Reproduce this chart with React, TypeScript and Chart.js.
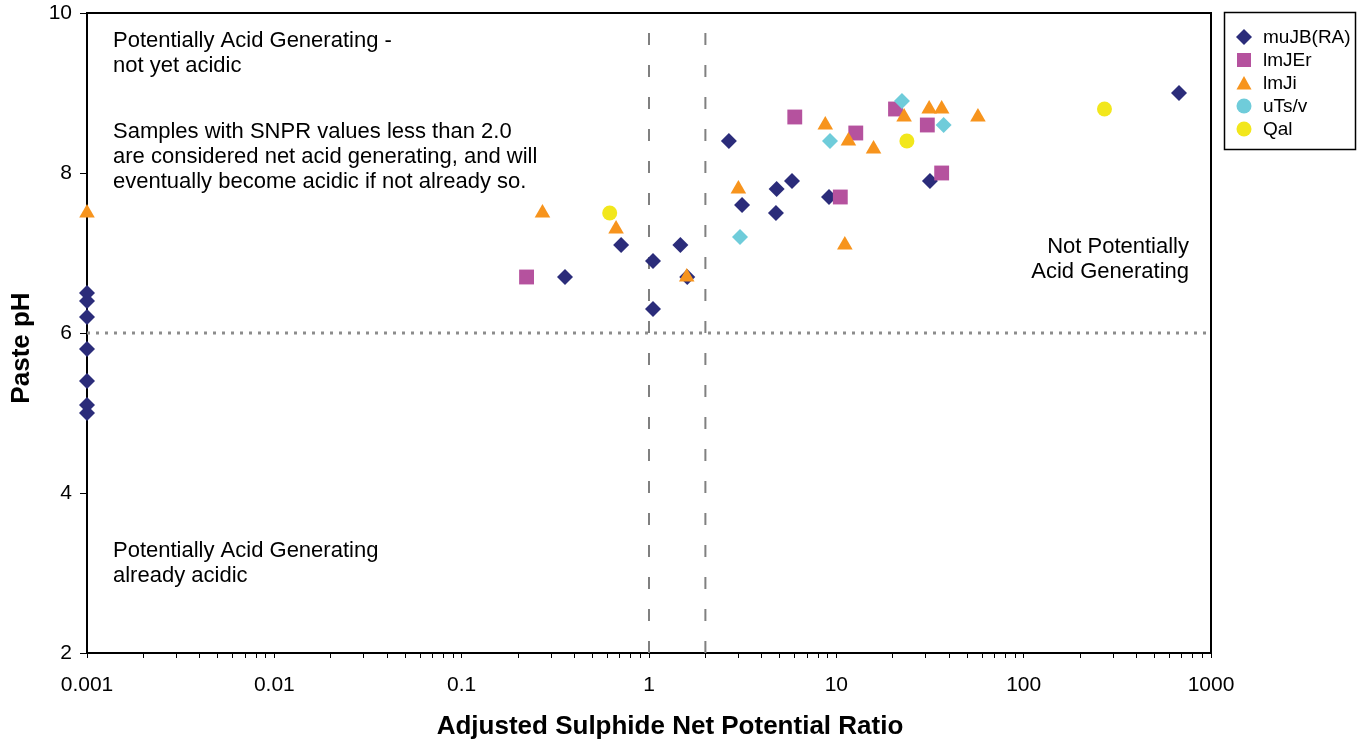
import React, { useEffect, useRef } from "react";
import { Chart, registerables } from "chart.js";

Chart.register(...registerables);

// ---- data ----
const seriesNames = ["muJB(RA)", "lmJEr", "lmJi", "uTs/v", "Qal"];

const muJB_x = [0.001, 0.001, 0.001, 0.001, 0.001, 0.001, 0.001, 0.356, 0.71, 1.05, 1.05, 1.47, 1.6, 2.67, 3.14, 4.76, 4.8, 5.8, 9.14, 31.6, 675];
const muJB_y = [6.5, 6.4, 6.2, 5.8, 5.4, 5.1, 5.0, 6.7, 7.1, 6.9, 6.3, 7.1, 6.7, 8.4, 7.6, 7.5, 7.8, 7.9, 7.7, 7.9, 9.0];

const lmJEr_x = [0.222, 6.0, 12.7, 20.7, 30.6, 36.5, 10.5];
const lmJEr_y = [6.7, 8.7, 8.5, 8.8, 8.6, 8.0, 7.7];

const lmJi_x = [0.001, 0.27, 0.667, 1.59, 3.0, 8.73, 11.6, 15.8, 11.1, 23, 31.3, 36.5, 57];
const lmJi_y = [7.5, 7.5, 7.3, 6.7, 7.8, 8.6, 8.4, 8.3, 7.1, 8.7, 8.8, 8.8, 8.7];

const uTs_x = [3.06, 9.25, 22.4, 37.4];
const uTs_y = [7.2, 8.4, 8.9, 8.6];

const Qal_x = [0.617, 23.8, 270];
const Qal_y = [7.5, 8.4, 8.8];

const xDecadeTicks = [0.001, 0.01, 0.1, 1, 10, 100, 1000];
const yTicks = [2, 4, 6, 8, 10];
const snprLines = [1, 2];
const phLine = 6;

const xTitle = "Adjusted Sulphide Net Potential Ratio";
const yTitle = "Paste pH";

const colors = ["#2B2C7A", "#B5529E", "#F7941D", "#6FCCDA", "#F2E71C"];
const pointStyles = ["rectRot", "rect", "triangle", "rectRot", "circle"];
const legendStyles = ["rectRot", "rect", "triangle", "circle", "circle"];
const radii = [8, 10.5, 9, 8, 7.5];

const FONT = "'Liberation Sans', Arial, Helvetica, sans-serif";

const zip = (xs: number[], ys: number[]) => xs.map((x, i) => ({ x, y: ys[i] }));

function drawMarker(ctx: CanvasRenderingContext2D, style: string, x: number, y: number, color: string) {
  ctx.fillStyle = color;
  ctx.beginPath();
  if (style === "rectRot") {
    const r = 8;
    ctx.moveTo(x, y - r);
    ctx.lineTo(x + r, y);
    ctx.lineTo(x, y + r);
    ctx.lineTo(x - r, y);
    ctx.closePath();
  } else if (style === "rect") {
    const h = 7;
    ctx.rect(x - h, y - h, 2 * h, 2 * h);
  } else if (style === "triangle") {
    const w = 7.5;
    ctx.moveTo(x, y - 7);
    ctx.lineTo(x + w, y + 6.5);
    ctx.lineTo(x - w, y + 6.5);
    ctx.closePath();
  } else {
    ctx.arc(x, y, 7.5, 0, Math.PI * 2);
  }
  ctx.fill();
}

const decorPlugin = {
  id: "decor",
  beforeDatasetsDraw(chart: any) {
    const { ctx, chartArea } = chart;
    ctx.save();
    ctx.strokeStyle = "#000";
    ctx.lineWidth = 2;
    ctx.beginPath();
    ctx.moveTo(chartArea.left, chartArea.top);
    ctx.lineTo(chartArea.right, chartArea.top);
    ctx.lineTo(chartArea.right, chartArea.bottom);
    ctx.stroke();

    // annotations
    ctx.fillStyle = "#000";
    ctx.font = `22px ${FONT}`;
    ctx.textBaseline = "alphabetic";
    ctx.textAlign = "left";
    const lx = chartArea.left + 26;
    ctx.fillText("Potentially Acid Generating -", lx, 47);
    ctx.fillText("not yet acidic", lx, 72);
    ctx.fillText("Samples with SNPR values less than 2.0", lx, 138);
    ctx.fillText("are considered net acid generating, and will", lx, 163);
    ctx.fillText("eventually become acidic if not already so.", lx, 188);
    ctx.fillText("Potentially Acid Generating", lx, 557);
    ctx.fillText("already acidic", lx, 582);
    ctx.textAlign = "right";
    ctx.fillText("Not Potentially", chartArea.right - 22, 253);
    ctx.fillText("Acid Generating", chartArea.right - 22, 278);
    ctx.restore();
  },
  afterDraw(chart: any) {
    const { ctx, chartArea } = chart;
    ctx.save();
    // axis titles
    ctx.fillStyle = "#000";
    ctx.font = `bold 26px ${FONT}`;
    ctx.textAlign = "center";
    ctx.textBaseline = "middle";
    ctx.fillText(xTitle, (chartArea.left + chartArea.right) / 2 + 21, 727);
    ctx.translate(22, (chartArea.top + chartArea.bottom) / 2 + 15);
    ctx.rotate(-Math.PI / 2);
    ctx.fillText(yTitle, 0, 0);
    ctx.restore();

    // legend
    ctx.save();
    const bx = 1224.5, by = 12.5, bw = 131, bh = 137;
    ctx.strokeStyle = "#000";
    ctx.lineWidth = 1.5;
    ctx.strokeRect(bx, by, bw, bh);
    ctx.font = `19px ${FONT}`;
    ctx.textAlign = "left";
    ctx.textBaseline = "middle";
    seriesNames.forEach((name, i) => {
      const cy = 37 + i * 23;
      drawMarker(ctx, legendStyles[i], 1244, cy, colors[i]);
      ctx.fillStyle = "#000";
      ctx.fillText(name, 1263, cy + 1);
    });
    ctx.restore();
  },
};

export default function App() {
  const canvasRef = useRef<HTMLCanvasElement | null>(null);

  useEffect(() => {
    if (!canvasRef.current) return;
    const series = [
      zip(muJB_x, muJB_y),
      zip(lmJEr_x, lmJEr_y),
      zip(lmJi_x, lmJi_y),
      zip(uTs_x, uTs_y),
      zip(Qal_x, Qal_y),
    ];
    const datasets: any[] = series.map((data, i) => ({
      label: seriesNames[i],
      data,
      pointStyle: pointStyles[i],
      pointRadius: radii[i],
      backgroundColor: colors[i],
      borderColor: colors[i],
      borderWidth: 0,
      order: 5 - i,
      clip: false,
    }));
    snprLines.forEach((v) => {
      datasets.push({
        label: "snpr" + v,
        data: [{ x: v, y: yTicks[0] }, { x: v, y: yTicks[yTicks.length - 1] }],
        showLine: true,
        pointRadius: 0,
        borderColor: "#808080",
        borderWidth: 2,
        borderDash: [12, 20],
        order: 10,
      });
    });
    datasets.push({
      label: "ph",
      data: [{ x: xDecadeTicks[0], y: phLine }, { x: xDecadeTicks[xDecadeTicks.length - 1], y: phLine }],
      showLine: true,
      pointRadius: 0,
      borderColor: "#8C8C8C",
      borderWidth: 3,
      borderDash: [3, 6],
      order: 10,
    });

    const chart = new Chart(canvasRef.current, {
      type: "scatter",
      data: { datasets },
      plugins: [decorPlugin],
      options: {
        animation: false,
        responsive: true,
        maintainAspectRatio: false,
        events: [],
        layout: { padding: { top: 13, right: 159, left: 0, bottom: 0 } },
        plugins: { legend: { display: false }, tooltip: { enabled: false } },
        font: { family: FONT },
        scales: {
          x: {
            type: "logarithmic",
            position: "bottom",
            min: xDecadeTicks[0],
            max: xDecadeTicks[xDecadeTicks.length - 1],
            afterBuildTicks: (scale: any) => {
              const t: any[] = [];
              xDecadeTicks.forEach((d, i) => {
                t.push({ value: d, major: true });
                if (i < xDecadeTicks.length - 1) {
                  for (let k = 2; k <= 9; k++) t.push({ value: d * k });
                }
              });
              scale.ticks = t;
            },
            afterFit: (scale: any) => {
              scale.height = 93;
              scale.paddingLeft = 0;
              scale.paddingRight = 0;
            },
            ticks: {
              autoSkip: false,
              maxRotation: 0,
              minRotation: 0,
              padding: 15,
              color: "#000",
              font: { family: FONT, size: 21 },
              callback: (v: any) => (xDecadeTicks.includes(Number(v)) ? String(v) : ""),
            },
            grid: { drawOnChartArea: false, drawTicks: true, tickLength: 5, color: "#000", lineWidth: 1 },
            border: { display: true, color: "#000", width: 2 },
          },
          y: {
            type: "linear",
            min: yTicks[0],
            max: yTicks[yTicks.length - 1],
            afterBuildTicks: (scale: any) => {
              scale.ticks = yTicks.map((v) => ({ value: v }));
            },
            afterFit: (scale: any) => {
              scale.width = 87;
              scale.paddingTop = 0;
              scale.paddingBottom = 0;
            },
            ticks: {
              padding: 8,
              color: "#000",
              font: { family: FONT, size: 21 },
            },
            grid: { drawOnChartArea: false, drawTicks: true, tickLength: 7, color: "#000", lineWidth: 1 },
            border: { display: true, color: "#000", width: 2 },
          },
        },
      } as any,
    });
    return () => chart.destroy();
  }, []);

  return (
    <div style={{ position: "fixed", left: 0, top: 0, width: 1370, height: 746, background: "#fff" }}>
      <canvas ref={canvasRef} />
    </div>
  );
}
